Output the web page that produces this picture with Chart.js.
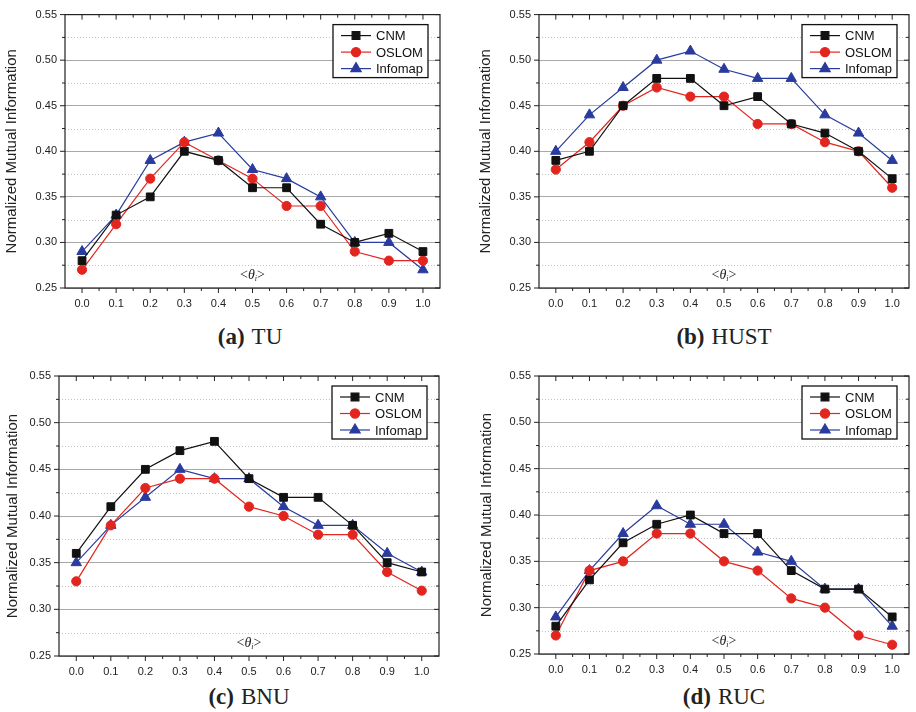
<!DOCTYPE html>
<html>
<head>
<meta charset="utf-8">
<script src="https://cdn.jsdelivr.net/npm/chart.js@4.4.0/dist/chart.umd.min.js"></script>
<style>
  body { margin: 0; background: #fff; width: 916px; height: 712px; position: relative; overflow: hidden; }
  canvas { position: absolute; }
  .cap { position: absolute; font-family: 'Liberation Serif', 'Times New Roman', serif; font-size: 23px; line-height: 26px; color: #222; transform: translateX(-50%); white-space: nowrap; }
  .cap b { margin-right: 7px; }
</style>
</head>
<body>
<canvas id="tu" width="458" height="320" style="left:0;top:0"></canvas>
<canvas id="hust" width="458" height="320" style="left:458px;top:0"></canvas>
<canvas id="bnu" width="458" height="320" style="left:0;top:356px"></canvas>
<canvas id="ruc" width="458" height="320" style="left:458px;top:356px"></canvas>
<div class="cap" style="left:250px;top:324px"><b>(a)</b>TU</div>
<div class="cap" style="left:724px;top:324px"><b>(b)</b>HUST</div>
<div class="cap" style="left:249px;top:684px"><b>(c)</b>BNU</div>
<div class="cap" style="left:724px;top:684px"><b>(d)</b>RUC</div>
<script>
/* global Chart */

// mean threshold <theta_i>
const xLabels = ['0.0', '0.1', '0.2', '0.3', '0.4', '0.5', '0.6', '0.7', '0.8', '0.9', '1.0']
const seriesNames = ['CNM', 'OSLOM', 'Infomap']

// (a) TU
const tuCNM = [0.28, 0.33, 0.35, 0.40, 0.39, 0.36, 0.36, 0.32, 0.30, 0.31, 0.29]
const tuOSLOM = [0.27, 0.32, 0.37, 0.41, 0.39, 0.37, 0.34, 0.34, 0.29, 0.28, 0.28]
const tuInfomap = [0.29, 0.33, 0.39, 0.41, 0.42, 0.38, 0.37, 0.35, 0.30, 0.30, 0.27]

// (b) HUST
const hustCNM = [0.39, 0.40, 0.45, 0.48, 0.48, 0.45, 0.46, 0.43, 0.42, 0.40, 0.37]
const hustOSLOM = [0.38, 0.41, 0.45, 0.47, 0.46, 0.46, 0.43, 0.43, 0.41, 0.40, 0.36]
const hustInfomap = [0.40, 0.44, 0.47, 0.50, 0.51, 0.49, 0.48, 0.48, 0.44, 0.42, 0.39]

// (c) BNU
const bnuCNM = [0.36, 0.41, 0.45, 0.47, 0.48, 0.44, 0.42, 0.42, 0.39, 0.35, 0.34]
const bnuOSLOM = [0.33, 0.39, 0.43, 0.44, 0.44, 0.41, 0.40, 0.38, 0.38, 0.34, 0.32]
const bnuInfomap = [0.35, 0.39, 0.42, 0.45, 0.44, 0.44, 0.41, 0.39, 0.39, 0.36, 0.34]

// (d) RUC
const rucCNM = [0.28, 0.33, 0.37, 0.39, 0.40, 0.38, 0.38, 0.34, 0.32, 0.32, 0.29]
const rucOSLOM = [0.27, 0.34, 0.35, 0.38, 0.38, 0.35, 0.34, 0.31, 0.30, 0.27, 0.26]
const rucInfomap = [0.29, 0.34, 0.38, 0.41, 0.39, 0.39, 0.36, 0.35, 0.32, 0.32, 0.28]

const yMin = 0.25
const yMax = 0.55
const yMinorTicks = [0.275, 0.325, 0.375, 0.425, 0.475, 0.525]

const styles = [
  { color: '#111111', pointStyle: 'rect', radius: 5.5 },
  { color: '#e3251f', pointStyle: 'circle', radius: 4.6 },
  { color: '#2a3b9e', pointStyle: 'triangle', radius: 6 }
]

const SANS = "'Liberation Sans', Arial, sans-serif"

function line (ctx, x1, y1, x2, y2) {
  ctx.beginPath()
  ctx.moveTo(x1, y1)
  ctx.lineTo(x2, y2)
  ctx.stroke()
}

const framePlugin = {
  id: 'frame',
  beforeDatasetsDraw (chart) {
    const { ctx, chartArea: a, scales: { y } } = chart
    ctx.save()
    ctx.strokeStyle = '#c2c2c2'
    ctx.lineWidth = 1
    ctx.setLineDash([1, 2])
    yMinorTicks.forEach(v => {
      const py = Math.round(y.getPixelForValue(v)) + 0.5
      line(ctx, a.left, py, a.right, py)
    })
    ctx.restore()
  },
  afterDraw (chart) {
    const { ctx, chartArea: a, scales: { x, y } } = chart
    ctx.save()
    ctx.strokeStyle = '#222'
    ctx.lineWidth = 1.2
    ctx.strokeRect(a.left, a.top, a.right - a.left, a.bottom - a.top)

    // ticks on all four sides
    ctx.lineWidth = 1
    for (let i = 0; i < xLabels.length; i++) {
      const px = x.getPixelForValue(i)
      line(ctx, px, a.bottom, px, a.bottom + 5)
      line(ctx, px, a.top, px, a.top + 5)
      if (i < xLabels.length - 1) {
        const mx = (px + x.getPixelForValue(i + 1)) / 2
        line(ctx, mx, a.bottom, mx, a.bottom + 3)
        line(ctx, mx, a.top, mx, a.top + 3)
      }
    }
    for (let v = 0; v <= 12; v++) {
      const py = y.getPixelForValue(yMin + v * 0.025)
      const len = v % 2 === 0 ? 5 : 3
      line(ctx, a.left - len, py, a.left, py)
      line(ctx, a.right - len, py, a.right, py)
    }

    // axis label inside the plot
    const cx = (a.left + a.right) / 2
    const ty = a.bottom - 13
    ctx.fillStyle = '#222'
    ctx.textBaseline = 'middle'
    ctx.font = "14px 'Liberation Serif', serif"
    const w1 = ctx.measureText('<').width
    ctx.font = "italic 14px 'Liberation Serif', serif"
    const w2 = ctx.measureText('\u03b8').width
    ctx.font = "italic 8px 'Liberation Serif', serif"
    const w3 = ctx.measureText('i').width
    ctx.font = "14px 'Liberation Serif', serif"
    const w4 = ctx.measureText('>').width
    let tx = cx - (w1 + w2 + w3 + w4) / 2
    ctx.textAlign = 'left'
    ctx.fillText('<', tx, ty); tx += w1
    ctx.font = "italic 14px 'Liberation Serif', serif"
    ctx.fillText('\u03b8', tx, ty); tx += w2
    ctx.font = "italic 8px 'Liberation Serif', serif"
    ctx.fillText('i', tx, ty + 4); tx += w3
    ctx.font = "14px 'Liberation Serif', serif"
    ctx.fillText('>', tx, ty)

    // legend box
    const bw = 95
    const bh = 53
    const bx = a.right - 12 - bw
    const by = a.top + 10
    ctx.fillStyle = '#fff'
    ctx.fillRect(bx, by, bw, bh)
    ctx.strokeStyle = '#111'
    ctx.lineWidth = 1.3
    ctx.strokeRect(bx, by, bw, bh)
    ctx.font = '13px ' + SANS
    chart.data.datasets.forEach((ds, i) => {
      const ly = by + 11 + i * 16.5
      ctx.strokeStyle = ds.borderColor
      ctx.lineWidth = 1.2
      line(ctx, bx + 8, ly, bx + 38, ly)
      ctx.fillStyle = ds.borderColor
      Chart.helpers.drawPoint(ctx, {
        pointStyle: ds.pointStyle, radius: ds.pointRadius, rotation: 0, borderWidth: 1
      }, bx + 23, ly)
      ctx.fillStyle = '#111'
      ctx.fillText(ds.label, bx + 43, ly + 1)
    })
    ctx.restore()
  }
}

function makePanel (id, values, g) {
  const canvas = document.getElementById(id)
  const W = canvas.width
  const H = canvas.height
  const datasets = values.map((data, i) => ({
    label: seriesNames[i],
    data,
    borderColor: styles[i].color,
    backgroundColor: styles[i].color,
    pointBackgroundColor: styles[i].color,
    pointBorderColor: styles[i].color,
    pointStyle: styles[i].pointStyle,
    pointRadius: styles[i].radius,
    pointBorderWidth: 1,
    borderWidth: 1.2,
    tension: 0
  }))
  return new Chart(canvas, {
    type: 'line',
    data: { labels: xLabels, datasets },
    options: {
      responsive: false,
      animation: false,
      devicePixelRatio: 1,
      layout: { padding: { left: g.padL, top: g.top, right: W - g.right, bottom: 0 } },
      plugins: { legend: { display: false }, tooltip: { enabled: false } },
      scales: {
        x: {
          type: 'category',
          offset: true,
          grid: { display: false, drawTicks: false },
          border: { display: false },
          ticks: { color: '#222', font: { size: 11, family: SANS }, padding: 9, maxRotation: 0, autoSkip: false },
          afterFit: s => { s.height = H - g.bottom }
        },
        y: {
          min: yMin,
          max: yMax,
          grid: { color: '#a8a8a8', lineWidth: 1, drawTicks: false },
          border: { display: false },
          ticks: {
            stepSize: 0.05,
            color: '#222',
            font: { size: 11, family: SANS },
            padding: 8,
            callback: v => v.toFixed(2)
          },
          title: {
            display: true,
            text: 'Normalized Mutual Information',
            color: '#222',
            font: { size: 15, family: SANS },
            padding: { top: g.titleX - g.padL - 9, bottom: 0 }
          },
          afterFit: s => { s.width = g.left - g.padL }
        }
      }
    },
    plugins: [framePlugin]
  })
}

makePanel('tu', [tuCNM, tuOSLOM, tuInfomap], { padL: 0, left: 65, right: 440, top: 12, bottom: 288, titleX: 12 })
makePanel('hust', [hustCNM, hustOSLOM, hustInfomap], { padL: 16, left: 81, right: 456, top: 12, bottom: 288, titleX: 28 })
makePanel('bnu', [bnuCNM, bnuOSLOM, bnuInfomap], { padL: 0, left: 59, right: 439, top: 20, bottom: 300, titleX: 13 })
makePanel('ruc', [rucCNM, rucOSLOM, rucInfomap], { padL: 16, left: 81, right: 457, top: 20, bottom: 298, titleX: 29 })
</script>
</body>
</html>
